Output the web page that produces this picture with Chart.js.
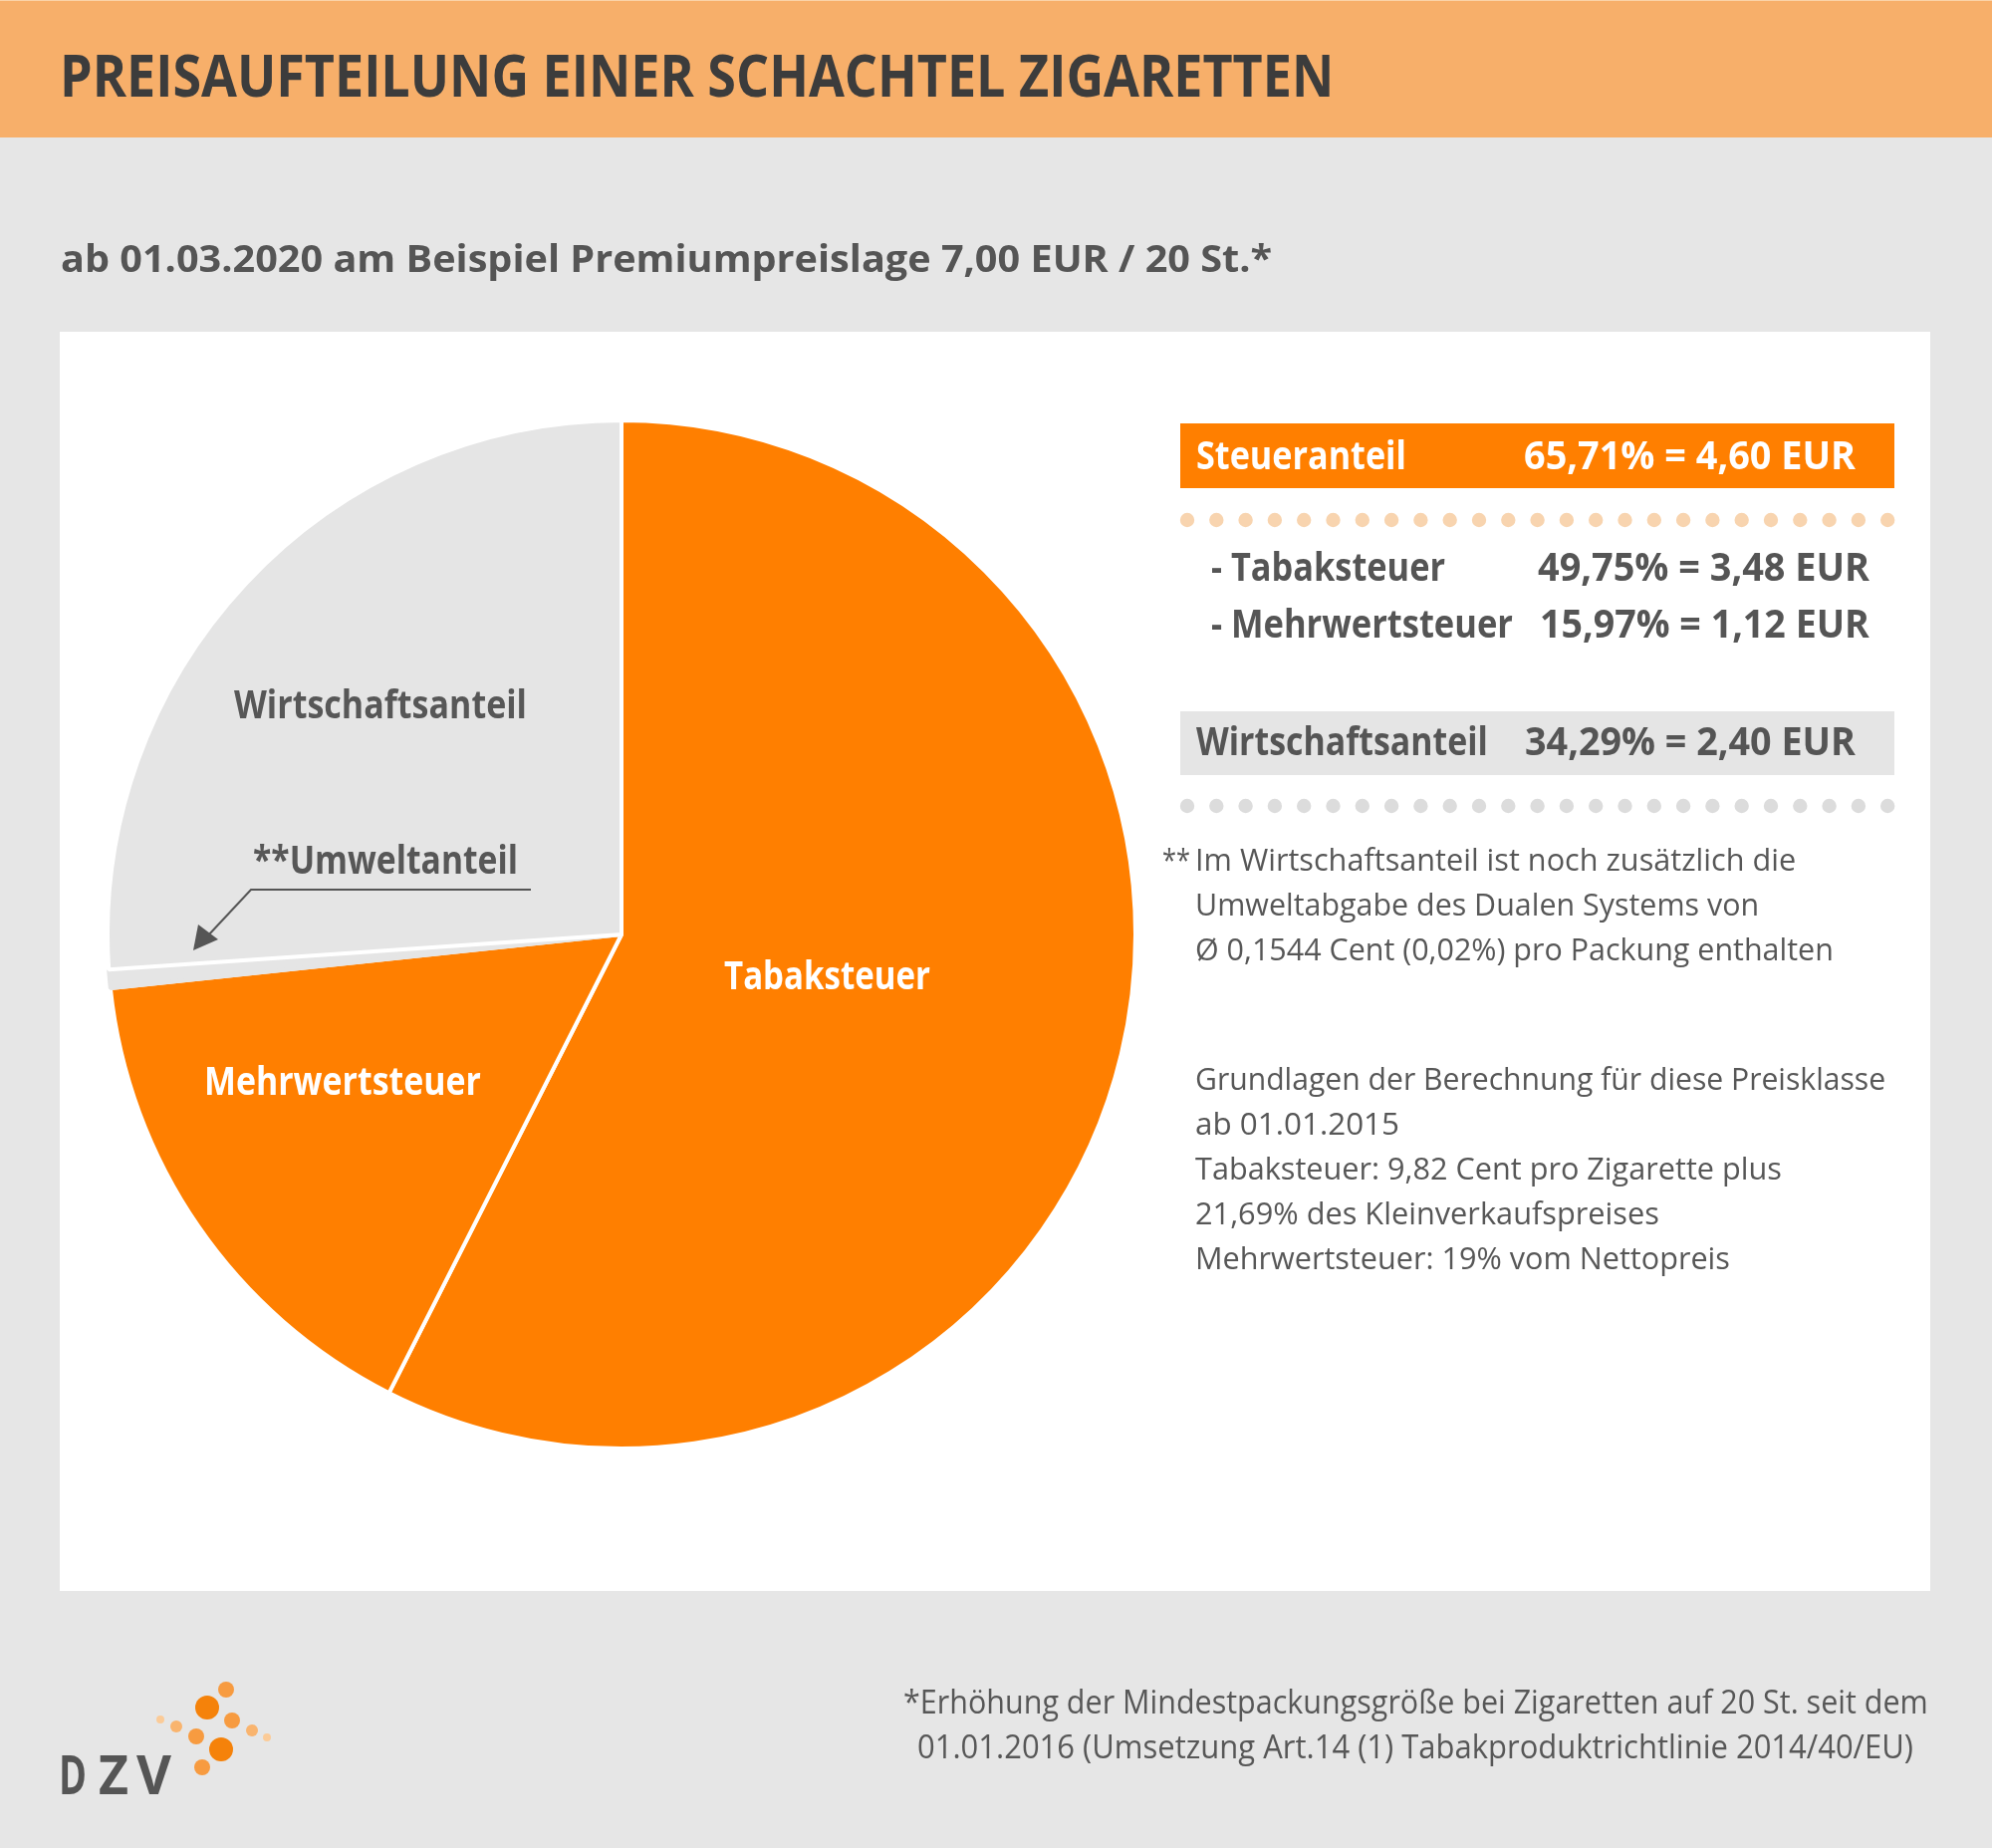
<!DOCTYPE html>
<html lang="de">
<head>
<meta charset="utf-8">
<title>Preisaufteilung einer Schachtel Zigaretten</title>
<script src="https://cdn.jsdelivr.net/npm/chart.js@4.4.1/dist/chart.umd.min.js"></script>
<style>
  html, body { margin: 0; padding: 0; }
  body {
    width: 2000px; height: 1855px; position: relative; overflow: hidden;
    background: #e6e6e6; font-family: "Open Sans", "Noto Sans", sans-serif;
  }
  #header {
    position: absolute; left: 0; top: 0; width: 2000px; height: 138px;
    background: #f7af6a; border-top: 1px solid #fbd3a8; box-sizing: border-box;
  }
  #panel { position: absolute; left: 60px; top: 333px; width: 1878px; height: 1264px; background: #fff; }
  #pieBox { position: absolute; left: 106px; top: 420px; width: 1036px; height: 1036px; }
  #overlay { position: absolute; left: 0; top: 0; }
</style>
</head>
<body>
<div id="header"></div>
<div id="panel"></div>
<div id="pieBox"><canvas id="pie" width="1036" height="1036"></canvas></div>
<svg id="overlay" width="2000" height="1855" xmlns="http://www.w3.org/2000/svg"></svg>

<script>
// slices as drawn in the graphic (clockwise from 12 o'clock)
const sliceLabels = ["Tabaksteuer", "Mehrwertsteuer", "Umweltanteil", "Wirtschaftsanteil"];
const drawnShares = [57.47, 15.86, 0.58, 26.09];
const sliceColors = ["#ff7f00", "#ff7f00", "#e5e5e5", "#e5e5e5"];
const sliceBorders = ["#ffffff", "#ffffff", "#e5e5e5", "#ffffff"];

// breakdown table on the right
const shareNames = ["Steueranteil", "- Tabaksteuer", "- Mehrwertsteuer", "Wirtschaftsanteil"];
const sharePercents = ["65,71%", "49,75%", "15,97%", "34,29%"];
const shareEuros = ["4,60", "3,48", "1,12", "2,40"];

const umweltNote = [
  "Im Wirtschaftsanteil ist noch zusätzlich die",
  "Umweltabgabe des Dualen Systems von",
  "Ø 0,1544 Cent (0,02%) pro Packung enthalten",
];
const basisNote = [
  "Grundlagen der Berechnung für diese Preisklasse",
  "ab 01.01.2015",
  "Tabaksteuer: 9,82 Cent pro Zigarette plus",
  "21,69% des Kleinverkaufspreises",
  "Mehrwertsteuer: 19% vom Nettopreis",
];
const footnote = [
  "*Erhöhung der Mindestpackungsgröße bei Zigaretten auf 20 St. seit dem",
  "01.01.2016 (Umsetzung Art.14 (1) Tabakproduktrichtlinie 2014/40/EU)",
];

new Chart(document.getElementById("pie"), {
  type: "pie",
  data: {
    labels: sliceLabels,
    datasets: [
      {
        data: drawnShares,
        backgroundColor: sliceColors,
        borderColor: sliceBorders,
        borderWidth: 4,
        hoverBorderWidth: 4,
        hoverOffset: 0,
      },
    ],
  },
  options: {
    responsive: false,
    devicePixelRatio: 1,
    animation: false,
    events: [],
    plugins: {
      legend: { display: false },
      tooltip: { enabled: false },
    },
  },
});

// ---- overlay: texts, boxes, dots, logo ----
const svgNS = "http://www.w3.org/2000/svg";
const overlay = document.getElementById("overlay");
const texts = [];

function add(tag, attrs) {
  const node = document.createElementNS(svgNS, tag);
  for (const k in attrs) node.setAttribute(k, attrs[k]);
  overlay.appendChild(node);
  return node;
}

// text at baseline (x, y); squeezed horizontally to width when given
function label(str, x, y, size, weight, color, width) {
  const t = add("text", { x: 0, y: 0, "font-size": size, "font-weight": weight, fill: color });
  t.textContent = str;
  texts.push({ t, x, y, width, weight });
}

label("PREISAUFTEILUNG EINER SCHACHTEL ZIGARETTEN", 60, 97, 59, 700, "#3c3c3c", 1279);
label("ab 01.03.2020 am Beispiel Premiumpreislage 7,00 EUR / 20 St.*", 61, 273, 37, 700, "#555555", 1216);

// labels inside the pie
label(sliceLabels[3], 235, 721, 39, 700, "#575757", 294);
label("**" + sliceLabels[2], 254, 877, 39, 700, "#575757", 266);
label(sliceLabels[0], 727, 993, 39, 700, "#ffffff", 207);
label(sliceLabels[1], 205, 1099, 39, 700, "#ffffff", 278);

// arrow to the thin slice
add("polyline", { points: "533,893 252,893 209,939", fill: "none", stroke: "#555555", "stroke-width": 2 });
add("polygon", { points: "194,954 199,928 219,943", fill: "#555555" });

// right column boxes
add("rect", { x: 1185, y: 425, width: 717, height: 65, fill: "#ff7f00" });
add("rect", { x: 1185, y: 714, width: 717, height: 64, fill: "#e5e5e5" });
for (let i = 0; i < 25; i++) {
  add("circle", { cx: 1192 + i * 29.3, cy: 522, r: 7.2, fill: "#f8d4af" });
  add("circle", { cx: 1192 + i * 29.3, cy: 809, r: 7.2, fill: "#dcdcdc" });
}

const rowBase = [471, 583, 640, 758];
const nameX = [1201, 1216, 1216, 1201];
const nameW = [211, 235, 303, 293];
const valX = [1530, 1544, 1546, 1531];
const valW = [333, 333, 331, 332];
shareNames.forEach((name, i) => {
  const col = i === 0 ? "#ffffff" : "#555555";
  label(name, nameX[i], rowBase[i], 39, 700, col, nameW[i]);
  label(`${sharePercents[i]} = ${shareEuros[i]} EUR`, valX[i], rowBase[i], 39, 700, col, valW[i]);
});

// notes
label("**", 1167, 874, 31, 400, "#575757", 28);
const umweltW = [603, 566, null];
umweltNote.forEach((line, i) => label(line, 1200, 874 + i * 45, 31, 400, "#575757", umweltW[i]));
const basisW = [693, 205, 589, 466, 537];
basisNote.forEach((line, i) => label(line, 1200, 1094 + i * 45, 31, 400, "#575757", basisW[i]));

label(footnote[0], 907, 1720, 32, 400, "#575757", 1029);
label(footnote[1], 921, 1765, 32, 400, "#575757", 1000);

// DZV logo
label("D", 59, 1801, 53, 700, "#555555", 28);
label("Z", 99, 1801, 53, 700, "#555555", 30);
label("V", 137, 1801, 53, 700, "#555555", 35);
const logoDots = [
  [227, 1696, 8, "#f79b40"], [208, 1714, 12, "#f5820a"], [233, 1727, 8, "#f79b40"],
  [161, 1726, 4, "#fbcb98"], [177, 1733, 6, "#f9b46e"], [197, 1743, 8, "#f79b40"],
  [222, 1756, 12, "#f5820a"], [253, 1737, 6, "#f9b46e"], [268, 1744, 4, "#fbcb98"],
  [203, 1774, 8, "#f79b40"],
];
logoDots.forEach(([cx, cy, r, fill]) => add("circle", { cx, cy, r, fill }));

function layoutTexts() {
  // lines without a measured width get the average squeeze of their weight
  const squeeze = {};
  [400, 700].forEach((w) => {
    const ok = texts.filter((o) => o.weight === w && o.width && o.t.textContent.length > 5);
    const s = ok.reduce((a, o) => a + o.width / o.t.getComputedTextLength(), 0) / ok.length;
    squeeze[w] = s;
  });
  texts.forEach((o) => {
    const natural = o.t.getComputedTextLength();
    const sx = o.width ? o.width / natural : squeeze[o.weight];
    o.t.setAttribute("transform", `translate(${o.x},${o.y}) scale(${sx},1)`);
  });
}
layoutTexts();
document.fonts.ready.then(layoutTexts);
</script>
</body>
</html>
